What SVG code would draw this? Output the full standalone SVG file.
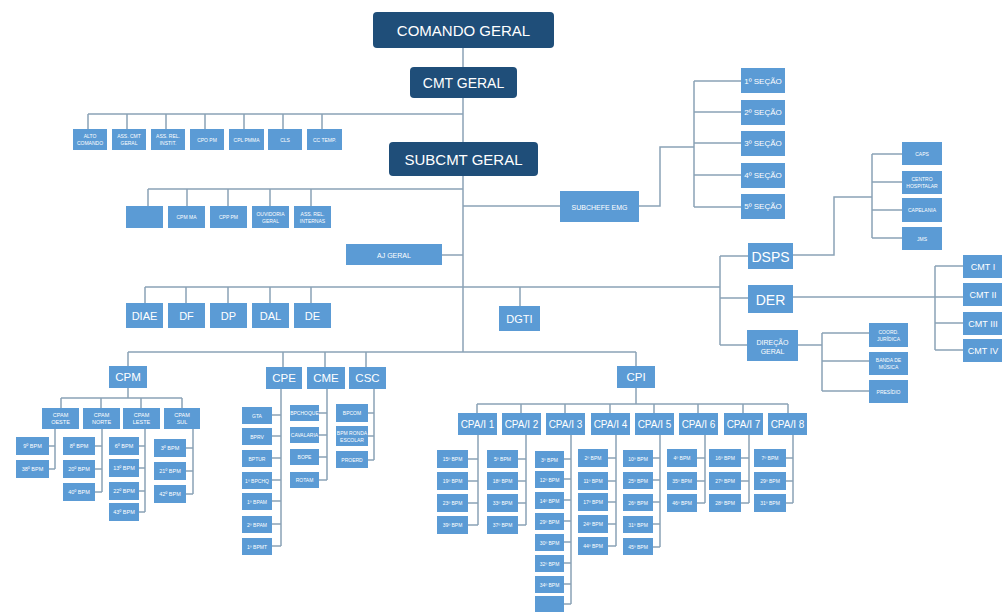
<svg xmlns="http://www.w3.org/2000/svg" width="1002" height="612" viewBox="0 0 1002 612">
<style>
.d{fill:#1f4e79}
.b{fill:#5b9bd5}
text{fill:#fff;font-family:"Liberation Sans",Arial,sans-serif;text-anchor:middle;dominant-baseline:central}
.f17{font-size:15px}.f15{font-size:14px}.f13{font-size:11.5px}.f12{font-size:11px}.f10{font-size:10px}.f9{font-size:9px}.f8{font-size:8px}.f7{font-size:7px}.f5{font-size:5.5px}.f4{font-size:5px}
.ln{fill:none;stroke:#8ba2b6;stroke-width:1.5}
</style>
<rect width="1002" height="612" fill="#fff"/>
<g id="connectors" class="ln">
<path d="M463 48V352"/>
<path d="M88 114H463M88 114V129M127 114V129M166 114V129M205 114V129M244 114V129M283 114V129M322 114V129"/>
<path d="M148 189H463M148 189V206M187 189V206M228 189V206M270 189V206M311 189V206"/>
<path d="M463 206H560M639 206H660V147H694M694 81V207M694 81H741M694 112H741M694 143H741M694 175H741M694 207H741"/>
<path d="M442 255H463"/>
<path d="M145 287H720M145 287V303M186 287V303M228 287V303M270 287V303M311 287V303M520 287V306"/>
<path d="M720 256V345M720 256H748M720 298H748M720 345H747"/>
<path d="M793 255H834V197H872M872 154V238M872 154H902M872 182H902M872 210H902M872 238H902"/>
<path d="M793 297H963M935 266V350M935 266H963M935 323H963M935 350H963"/>
<path d="M798 345H822M822 333V391M822 333H869M822 361H869M822 391H869"/>
<path d="M128 352H636M128 352V366M283 352V367M325 352V367M366 352V367M636 352V366"/>
<path d="M128 388V398M61 398H182M61 398V408M101 398V408M141 398V408M182 398V408"/>
<path d="M55 429V469M49 446H55M49 469H55"/>
<path d="M102 429V492M95 446H102M95 469H102M95 492H102"/>
<path d="M145 429V512M139 446H145M139 468H145M139 491H145M139 512H145"/>
<path d="M193 429V494M186 448H193M186 471H193M186 494H193"/>
<path d="M281 389V546M272 415H281M272 436H281M272 458H281M272 480H281M272 501H281M272 524H281M272 546H281"/>
<path d="M327 389V480M319 413H327M319 435H327M319 457H327M319 480H327"/>
<path d="M374 389V460M368 413H374M368 436H374M368 460H374"/>
<path d="M636 388V404M477 404H788M477 404V413M521 404V413M565 404V413M610 404V413M654 404V413M698 404V413M743 404V413M788 404V413"/>
<path d="M478 435V525M468 459H478M468 481H478M468 503H478M468 525H478"/>
<path d="M526 435V525M518 459H526M518 481H526M518 503H526M518 525H526"/>
<path d="M571 435V604M564 459H571M564 479H571M564 500H571M564 521H571M564 542H571M564 563H571M564 584H571M564 604H571"/>
<path d="M616 435V546M608 458H616M608 481H616M608 502H616M608 524H616M608 546H616"/>
<path d="M660 435V547M653 458H660M653 480H660M653 502H660M653 524H660M653 547H660"/>
<path d="M705 435V503M697 458H705M697 481H705M697 503H705"/>
<path d="M749 435V503M741 458H749M741 481H749M741 503H749"/>
<path d="M793 435V503M786 458H793M786 481H793M786 503H793"/>
</g>
<g id="comando-geral"><rect class="d" x="373" y="12" width="181" height="36" rx="4"/><text class="f17" x="463.5" y="30">COMANDO GERAL</text></g>
<g id="cmt-geral"><rect class="d" x="410" y="67" width="107" height="31" rx="4"/><text class="f15" x="463.5" y="83">CMT GERAL</text></g>
<g id="subcmt-geral"><rect class="d" x="389" y="142" width="149" height="34" rx="4"/><text class="f17" x="463.5" y="159">SUBCMT GERAL</text></g>
<g id="alto-comando"><rect class="b" x="73" y="129" width="34" height="21"/><text class="f4" x="90" y="139.5"><tspan x="90" dy="-3.5">ALTO</tspan><tspan x="90" dy="7">COMANDO</tspan></text></g>
<g id="ass-cmt-geral"><rect class="b" x="112" y="129" width="34" height="21"/><text class="f4" x="129" y="139.5"><tspan x="129" dy="-3.5">ASS. CMT</tspan><tspan x="129" dy="7">GERAL</tspan></text></g>
<g id="ass-rel-instit"><rect class="b" x="151" y="129" width="34" height="21"/><text class="f4" x="168" y="139.5"><tspan x="168" dy="-3.5">ASS. REL.</tspan><tspan x="168" dy="7">INSTIT.</tspan></text></g>
<g id="cpo-pm"><rect class="b" x="190" y="129" width="34" height="21"/><text class="f4" x="207" y="139.5">CPO PM</text></g>
<g id="cpl-pmma"><rect class="b" x="229" y="129" width="35" height="21"/><text class="f4" x="246.5" y="139.5">CPL PMMA</text></g>
<g id="cls"><rect class="b" x="268" y="129" width="34" height="21"/><text class="f4" x="285" y="139.5">CLS</text></g>
<g id="cc-temp"><rect class="b" x="307" y="129" width="35" height="21"/><text class="f4" x="324.5" y="139.5">CC TEMP.</text></g>
<g id="blank-staff"><rect class="b" x="126" y="206" width="37" height="22"/></g>
<g id="cpm-ma"><rect class="b" x="168" y="206" width="37" height="22"/><text class="f4" x="186.5" y="217">CPM MA</text></g>
<g id="cpp-pm"><rect class="b" x="210" y="206" width="37" height="22"/><text class="f4" x="228.5" y="217">CPP PM</text></g>
<g id="ouvidoria"><rect class="b" x="252" y="206" width="37" height="22"/><text class="f4" x="270.5" y="217"><tspan x="270.5" dy="-3.5">OUVIDORIA</tspan><tspan x="270.5" dy="7">GERAL</tspan></text></g>
<g id="ass-rel-internas"><rect class="b" x="294" y="206" width="37" height="22"/><text class="f4" x="312.5" y="217"><tspan x="312.5" dy="-3.5">ASS. REL.</tspan><tspan x="312.5" dy="7">INTERNAS</tspan></text></g>
<g id="subchefe-emg"><rect class="b" x="560" y="191" width="79" height="31"/><text class="f7" x="599.5" y="207">SUBCHEFE EMG</text></g>
<g id="secao1"><rect class="b" x="741" y="68" width="44" height="25"/><text class="f8" x="763" y="81">1º SEÇÃO</text></g>
<g id="secao2"><rect class="b" x="741" y="100" width="44" height="25"/><text class="f8" x="763" y="112.5">2º SEÇÃO</text></g>
<g id="secao3"><rect class="b" x="741" y="131" width="44" height="25"/><text class="f8" x="763" y="143.5">3º SEÇÃO</text></g>
<g id="secao4"><rect class="b" x="741" y="163" width="44" height="25"/><text class="f8" x="763" y="175.5">4º SEÇÃO</text></g>
<g id="secao5"><rect class="b" x="741" y="194" width="44" height="25"/><text class="f8" x="763" y="206.5">5º SEÇÃO</text></g>
<g id="aj-geral"><rect class="b" x="346" y="244" width="96" height="21"/><text class="f7" x="394" y="255">AJ GERAL</text></g>
<g id="diae"><rect class="b" x="126" y="303" width="37" height="25"/><text class="f12" x="144.5" y="316">DIAE</text></g>
<g id="df"><rect class="b" x="168" y="303" width="37" height="25"/><text class="f12" x="186.5" y="316">DF</text></g>
<g id="dp"><rect class="b" x="210" y="303" width="37" height="25"/><text class="f12" x="228.5" y="316">DP</text></g>
<g id="dal"><rect class="b" x="252" y="303" width="37" height="25"/><text class="f12" x="270.5" y="316">DAL</text></g>
<g id="de"><rect class="b" x="294" y="303" width="37" height="25"/><text class="f12" x="312.5" y="316">DE</text></g>
<g id="dgti"><rect class="b" x="499" y="306" width="41" height="25"/><text class="f12" x="519.5" y="319">DGTI</text></g>
<g id="dsps"><rect class="b" x="748" y="243" width="45" height="26"/><text class="f15" x="770.5" y="257">DSPS</text></g>
<g id="der"><rect class="b" x="748" y="285" width="45" height="28"/><text class="f15" x="770.5" y="300">DER</text></g>
<g id="direcao-geral"><rect class="b" x="747" y="330" width="51" height="31"/><text class="f7" x="772.5" y="346"><tspan x="772.5" dy="-4.5">DIREÇÃO</tspan><tspan x="772.5" dy="9">GERAL</tspan></text></g>
<g id="caps"><rect class="b" x="902" y="142" width="40" height="23"/><text class="f4" x="922" y="154">CAPS</text></g>
<g id="centro-hospitalar"><rect class="b" x="902" y="171" width="40" height="23"/><text class="f4" x="922" y="182.5"><tspan x="922" dy="-3.5">CENTRO</tspan><tspan x="922" dy="7">HOSPITALAR</tspan></text></g>
<g id="capelania"><rect class="b" x="902" y="198" width="40" height="24"/><text class="f4" x="922" y="210">CAPELANIA</text></g>
<g id="jms"><rect class="b" x="902" y="227" width="40" height="23"/><text class="f4" x="922" y="238.5">JMS</text></g>
<g id="cmt1"><rect class="b" x="963" y="255" width="41" height="23"/><text class="f9" x="983" y="266.5">CMT I</text></g>
<g id="cmt2"><rect class="b" x="963" y="283" width="41" height="23"/><text class="f9" x="983" y="294.5">CMT II</text></g>
<g id="cmt3"><rect class="b" x="963" y="312" width="41" height="23"/><text class="f9" x="983" y="323.5">CMT III</text></g>
<g id="cmt4"><rect class="b" x="963" y="339" width="41" height="23"/><text class="f9" x="983" y="350.5">CMT IV</text></g>
<g id="coord-juridica"><rect class="b" x="869" y="323" width="39" height="24"/><text class="f4" x="888.5" y="335"><tspan x="888.5" dy="-3.5">COORD.</tspan><tspan x="888.5" dy="7">JURÍDICA</tspan></text></g>
<g id="banda-musica"><rect class="b" x="869" y="352" width="39" height="23"/><text class="f4" x="888.5" y="363.5"><tspan x="888.5" dy="-3.5">BANDA DE</tspan><tspan x="888.5" dy="7">MÚSICA</tspan></text></g>
<g id="presidio"><rect class="b" x="869" y="380" width="39" height="23"/><text class="f4" x="888.5" y="391.5">PRESÍDIO</text></g>
<g id="cpm"><rect class="b" x="109" y="366" width="38" height="22"/><text class="f13" x="128" y="377">CPM</text></g>
<g id="cpe"><rect class="b" x="266" y="367" width="36" height="22"/><text class="f13" x="284" y="378">CPE</text></g>
<g id="cme"><rect class="b" x="307" y="367" width="38" height="22"/><text class="f13" x="326" y="378">CME</text></g>
<g id="csc"><rect class="b" x="349" y="367" width="37" height="22"/><text class="f13" x="367.5" y="378">CSC</text></g>
<g id="cpi"><rect class="b" x="617" y="366" width="38" height="22"/><text class="f13" x="636" y="377">CPI</text></g>
<g id="cpam-oeste"><rect class="b" x="42" y="408" width="37" height="21"/><text class="f5" x="60.5" y="418.5"><tspan x="60.5" dy="-3.5">CPAM</tspan><tspan x="60.5" dy="7">OESTE</tspan></text></g>
<g id="cpam-norte"><rect class="b" x="83" y="408" width="37" height="21"/><text class="f5" x="101.5" y="418.5"><tspan x="101.5" dy="-3.5">CPAM</tspan><tspan x="101.5" dy="7">NORTE</tspan></text></g>
<g id="cpam-leste"><rect class="b" x="123" y="408" width="37" height="21"/><text class="f5" x="141.5" y="418.5"><tspan x="141.5" dy="-3.5">CPAM</tspan><tspan x="141.5" dy="7">LESTE</tspan></text></g>
<g id="cpam-sul"><rect class="b" x="164" y="408" width="36" height="21"/><text class="f5" x="182" y="418.5"><tspan x="182" dy="-3.5">CPAM</tspan><tspan x="182" dy="7">SUL</tspan></text></g>
<g id="bpm9"><rect class="b" x="16" y="437" width="33" height="18"/><text class="f5" x="32.5" y="446">9º BPM</text></g>
<g id="bpm38"><rect class="b" x="16" y="460" width="33" height="18"/><text class="f5" x="32.5" y="469">38º BPM</text></g>
<g id="bpm8"><rect class="b" x="63" y="437" width="32" height="18"/><text class="f5" x="79" y="446">8º BPM</text></g>
<g id="bpm20"><rect class="b" x="63" y="460" width="32" height="18"/><text class="f5" x="79" y="469">20º BPM</text></g>
<g id="bpm40"><rect class="b" x="63" y="483" width="32" height="18"/><text class="f5" x="79" y="492">40º BPM</text></g>
<g id="bpm6"><rect class="b" x="109" y="437" width="30" height="18"/><text class="f5" x="124" y="446">6º BPM</text></g>
<g id="bpm13"><rect class="b" x="109" y="459" width="30" height="18"/><text class="f5" x="124" y="468">13º BPM</text></g>
<g id="bpm22"><rect class="b" x="109" y="482" width="30" height="18"/><text class="f5" x="124" y="491">22º BPM</text></g>
<g id="bpm43"><rect class="b" x="109" y="503" width="30" height="18"/><text class="f5" x="124" y="512">43º BPM</text></g>
<g id="bpm3s"><rect class="b" x="154" y="439" width="32" height="18"/><text class="f5" x="170" y="448">3º BPM</text></g>
<g id="bpm21"><rect class="b" x="154" y="462" width="32" height="18"/><text class="f5" x="170" y="471">21º BPM</text></g>
<g id="bpm42"><rect class="b" x="154" y="485" width="32" height="18"/><text class="f5" x="170" y="494">42º BPM</text></g>
<g id="gta"><rect class="b" x="242" y="407" width="30" height="17"/><text class="f4" x="257" y="415.5">GTA</text></g>
<g id="bprv"><rect class="b" x="242" y="428" width="30" height="17"/><text class="f4" x="257" y="436.5">BPRV</text></g>
<g id="bptur"><rect class="b" x="242" y="450" width="30" height="17"/><text class="f4" x="257" y="458.5">BPTUR</text></g>
<g id="bpchq"><rect class="b" x="242" y="472" width="30" height="17"/><text class="f4" x="257" y="480.5">1º BPCHQ</text></g>
<g id="bpam1"><rect class="b" x="242" y="493" width="30" height="17"/><text class="f4" x="257" y="501.5">1º BPAM</text></g>
<g id="bpam2"><rect class="b" x="242" y="516" width="30" height="17"/><text class="f4" x="257" y="524.5">2º BPAM</text></g>
<g id="bpmt"><rect class="b" x="242" y="538" width="30" height="17"/><text class="f4" x="257" y="546.5">1º BPMT</text></g>
<g id="bpchoque"><rect class="b" x="290" y="405" width="29" height="16"/><text class="f4" x="304.5" y="413">BPCHOQUE</text></g>
<g id="cavalaria"><rect class="b" x="290" y="427" width="29" height="16"/><text class="f4" x="304.5" y="435">CAVALARIA</text></g>
<g id="bope"><rect class="b" x="290" y="449" width="29" height="16"/><text class="f4" x="304.5" y="457">BOPE</text></g>
<g id="rotam"><rect class="b" x="290" y="472" width="29" height="16"/><text class="f4" x="304.5" y="480">ROTAM</text></g>
<g id="bpcom"><rect class="b" x="336" y="404" width="32" height="18"/><text class="f4" x="352" y="413">BPCOM</text></g>
<g id="ronda-escolar"><rect class="b" x="336" y="426" width="32" height="20"/><text class="f4" x="352" y="436"><tspan x="352" dy="-3.5">BPM RONDA</tspan><tspan x="352" dy="7">ESCOLAR</tspan></text></g>
<g id="proerd"><rect class="b" x="336" y="451" width="32" height="17"/><text class="f4" x="352" y="459.5">PROERD</text></g>
<g id="cpai1"><rect class="b" x="458" y="413" width="39" height="22"/><text class="f10" x="477.5" y="424">CPA/I 1</text></g>
<g id="cpai2"><rect class="b" x="502" y="413" width="39" height="22"/><text class="f10" x="521.5" y="424">CPA/I 2</text></g>
<g id="cpai3"><rect class="b" x="546" y="413" width="39" height="22"/><text class="f10" x="565.5" y="424">CPA/I 3</text></g>
<g id="cpai4"><rect class="b" x="591" y="413" width="39" height="22"/><text class="f10" x="610.5" y="424">CPA/I 4</text></g>
<g id="cpai5"><rect class="b" x="635" y="413" width="39" height="22"/><text class="f10" x="654.5" y="424">CPA/I 5</text></g>
<g id="cpai6"><rect class="b" x="679" y="413" width="39" height="22"/><text class="f10" x="698.5" y="424">CPA/I 6</text></g>
<g id="cpai7"><rect class="b" x="724" y="413" width="39" height="22"/><text class="f10" x="743.5" y="424">CPA/I 7</text></g>
<g id="cpai8"><rect class="b" x="768" y="413" width="39" height="22"/><text class="f10" x="787.5" y="424">CPA/I 8</text></g>
<g id="c1-15"><rect class="b" x="437" y="450" width="31" height="18"/><text class="f4" x="452.5" y="459">15º BPM</text></g>
<g id="c1-19"><rect class="b" x="437" y="472" width="31" height="18"/><text class="f4" x="452.5" y="481">19º BPM</text></g>
<g id="c1-23"><rect class="b" x="437" y="494" width="31" height="18"/><text class="f4" x="452.5" y="503">23º BPM</text></g>
<g id="c1-39"><rect class="b" x="437" y="516" width="31" height="18"/><text class="f4" x="452.5" y="525">39º BPM</text></g>
<g id="c2-5"><rect class="b" x="487" y="450" width="31" height="18"/><text class="f4" x="502.5" y="459">5º BPM</text></g>
<g id="c2-18"><rect class="b" x="487" y="472" width="31" height="18"/><text class="f4" x="502.5" y="481">18º BPM</text></g>
<g id="c2-33"><rect class="b" x="487" y="494" width="31" height="18"/><text class="f4" x="502.5" y="503">33º BPM</text></g>
<g id="c2-37"><rect class="b" x="487" y="516" width="31" height="18"/><text class="f4" x="502.5" y="525">37º BPM</text></g>
<g id="c3-3"><rect class="b" x="535" y="451" width="29" height="17"/><text class="f4" x="549.5" y="459.5">3º BPM</text></g>
<g id="c3-12"><rect class="b" x="535" y="471" width="29" height="17"/><text class="f4" x="549.5" y="479.5">12º BPM</text></g>
<g id="c3-14"><rect class="b" x="535" y="492" width="29" height="17"/><text class="f4" x="549.5" y="500.5">14º BPM</text></g>
<g id="c3-29"><rect class="b" x="535" y="513" width="29" height="17"/><text class="f4" x="549.5" y="521.5">29º BPM</text></g>
<g id="c3-30"><rect class="b" x="535" y="534" width="29" height="17"/><text class="f4" x="549.5" y="542.5">30º BPM</text></g>
<g id="c3-32"><rect class="b" x="535" y="555" width="29" height="17"/><text class="f4" x="549.5" y="563.5">32º BPM</text></g>
<g id="c3-34"><rect class="b" x="535" y="576" width="29" height="17"/><text class="f4" x="549.5" y="584.5">34º BPM</text></g>
<g id="c3-blank"><rect class="b" x="535" y="596" width="29" height="16"/></g>
<g id="c4-2"><rect class="b" x="578" y="449" width="30" height="18"/><text class="f4" x="593" y="458">2º BPM</text></g>
<g id="c4-11"><rect class="b" x="578" y="472" width="30" height="18"/><text class="f4" x="593" y="481">11º BPM</text></g>
<g id="c4-17"><rect class="b" x="578" y="493" width="30" height="18"/><text class="f4" x="593" y="502">17º BPM</text></g>
<g id="c4-24"><rect class="b" x="578" y="515" width="30" height="18"/><text class="f4" x="593" y="524">24º BPM</text></g>
<g id="c4-44"><rect class="b" x="578" y="537" width="30" height="18"/><text class="f4" x="593" y="546">44º BPM</text></g>
<g id="c5-10"><rect class="b" x="623" y="450" width="30" height="17"/><text class="f4" x="638" y="458.5">10º BPM</text></g>
<g id="c5-25"><rect class="b" x="623" y="472" width="30" height="17"/><text class="f4" x="638" y="480.5">25º BPM</text></g>
<g id="c5-26"><rect class="b" x="623" y="494" width="30" height="17"/><text class="f4" x="638" y="502.5">26º BPM</text></g>
<g id="c5-31"><rect class="b" x="623" y="516" width="30" height="17"/><text class="f4" x="638" y="524.5">31º BPM</text></g>
<g id="c5-45"><rect class="b" x="623" y="538" width="30" height="17"/><text class="f4" x="638" y="546.5">45º BPM</text></g>
<g id="c6-4"><rect class="b" x="667" y="449" width="30" height="18"/><text class="f4" x="682" y="458">4º BPM</text></g>
<g id="c6-35"><rect class="b" x="667" y="472" width="30" height="18"/><text class="f4" x="682" y="481">35º BPM</text></g>
<g id="c6-46"><rect class="b" x="667" y="494" width="30" height="18"/><text class="f4" x="682" y="503">46º BPM</text></g>
<g id="c7-16"><rect class="b" x="709" y="449" width="32" height="18"/><text class="f4" x="725" y="458">16º BPM</text></g>
<g id="c7-27"><rect class="b" x="709" y="472" width="32" height="18"/><text class="f4" x="725" y="481">27º BPM</text></g>
<g id="c7-28"><rect class="b" x="709" y="494" width="32" height="18"/><text class="f4" x="725" y="503">28º BPM</text></g>
<g id="c8-7"><rect class="b" x="754" y="449" width="32" height="18"/><text class="f4" x="770" y="458">7º BPM</text></g>
<g id="c8-29"><rect class="b" x="754" y="472" width="32" height="18"/><text class="f4" x="770" y="481">29º BPM</text></g>
<g id="c8-31"><rect class="b" x="754" y="494" width="32" height="18"/><text class="f4" x="770" y="503">31º BPM</text></g>
</svg>
